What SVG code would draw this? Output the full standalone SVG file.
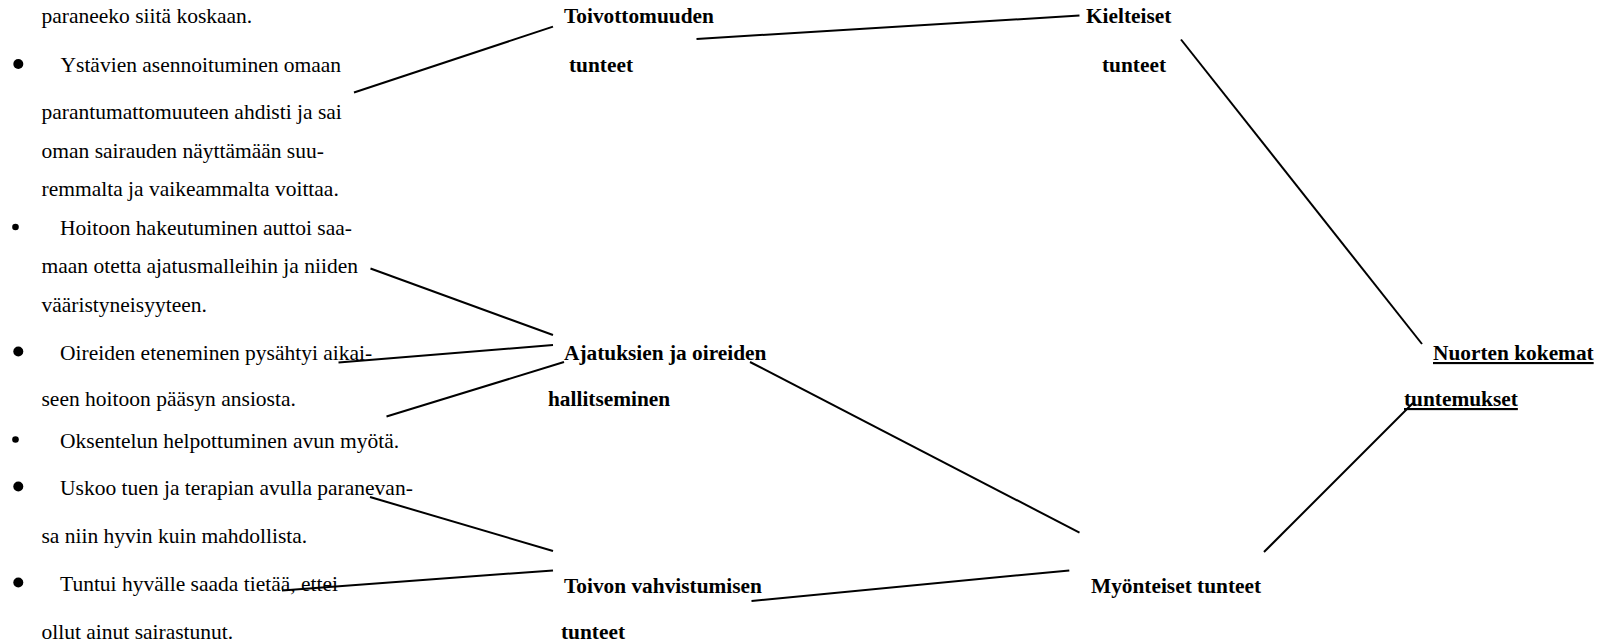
<svg xmlns="http://www.w3.org/2000/svg" width="1603" height="644" viewBox="0 0 1603 644">
  <style>
    text { font-family: "Liberation Serif", "Times New Roman", serif; font-size: 21.5px; fill: #000; }
    .b { font-weight: bold; font-size: 21.35px; }
    .u { text-decoration: underline; }
    .link { stroke: #000; stroke-width: 2; fill: none; stroke-linecap: butt; }
    .dot { fill: #000; }
  </style>
  <rect width="1603" height="644" fill="#fff"/>

  <!-- quoted statements, left column -->
  <g id="statements">
    <text x="41.5" y="23">paraneeko siitä koskaan.</text>
    <circle class="dot" cx="18.3" cy="64" r="5"/>
    <text x="60.5" y="72">Ystävien asennoituminen omaan</text>
    <text x="41.5" y="119">parantumattomuuteen ahdisti ja sai</text>
    <text x="41.5" y="158">oman sairauden näyttämään suu-</text>
    <text x="41.5" y="196">remmalta ja vaikeammalta voittaa.</text>
    <circle class="dot" cx="15.5" cy="227" r="3.3"/>
    <text x="60" y="235">Hoitoon hakeutuminen auttoi saa-</text>
    <text x="41.5" y="273">maan otetta ajatusmalleihin ja niiden</text>
    <text x="41.5" y="312">vääristyneisyyteen.</text>
    <circle class="dot" cx="18.3" cy="351.5" r="5"/>
    <text x="60" y="360">Oireiden eteneminen pysähtyi aikai-</text>
    <text x="41.5" y="406">seen hoitoon pääsyn ansiosta.</text>
    <circle class="dot" cx="15.5" cy="439.5" r="3.3"/>
    <text x="60" y="448">Oksentelun helpottuminen avun myötä.</text>
    <circle class="dot" cx="18.3" cy="486.5" r="5"/>
    <text x="60" y="495">Uskoo tuen ja terapian avulla paranevan-</text>
    <text x="41.5" y="543">sa niin hyvin kuin mahdollista.</text>
    <circle class="dot" cx="18.3" cy="582.5" r="5"/>
    <text x="60" y="591">Tuntui hyvälle saada tietää, ettei</text>
    <text x="41.5" y="639">ollut ainut sairastunut.</text>
  </g>

  <!-- category nodes -->
  <g id="toivottomuuden-tunteet">
    <text class="b" x="564" y="23">Toivottomuuden</text>
    <text class="b" x="569" y="72">tunteet</text>
  </g>
  <g id="ajatuksien-hallitseminen">
    <text class="b" x="564" y="360">Ajatuksien ja oireiden</text>
    <text class="b" x="548" y="406">hallitseminen</text>
  </g>
  <g id="toivon-vahvistumisen-tunteet">
    <text class="b" x="564" y="593">Toivon vahvistumisen</text>
    <text class="b" x="561" y="639">tunteet</text>
  </g>
  <g id="kielteiset-tunteet">
    <text class="b" x="1086" y="23">Kielteiset</text>
    <text class="b" x="1102" y="72">tunteet</text>
  </g>
  <g id="myonteiset-tunteet">
    <text class="b" x="1091" y="593">Myönteiset tunteet</text>
  </g>
  <g id="nuorten-kokemat-tuntemukset">
    <text class="b u" x="1433" y="360">Nuorten kokemat</text>
    <text class="b u" x="1404" y="406">tuntemukset</text>
  </g>

  <!-- connectors -->
  <g id="connectors">
    <line class="link" x1="354" y1="92.5" x2="553" y2="26.6"/>
    <line class="link" x1="696.5" y1="39" x2="1079.5" y2="15.5"/>
    <line class="link" x1="1181" y1="39.5" x2="1422" y2="344"/>
    <line class="link" x1="370.5" y1="268.5" x2="553" y2="335"/>
    <line class="link" x1="338.5" y1="362.5" x2="553" y2="345"/>
    <line class="link" x1="386.5" y1="416.5" x2="564" y2="362"/>
    <line class="link" x1="750" y1="362" x2="1079.5" y2="532.6"/>
    <line class="link" x1="1264" y1="552" x2="1413" y2="403"/>
    <line class="link" x1="370" y1="497" x2="553" y2="551"/>
    <line class="link" x1="282" y1="590.5" x2="553" y2="570.4"/>
    <line class="link" x1="751.5" y1="601" x2="1069.3" y2="570.4"/>
  </g>
</svg>
